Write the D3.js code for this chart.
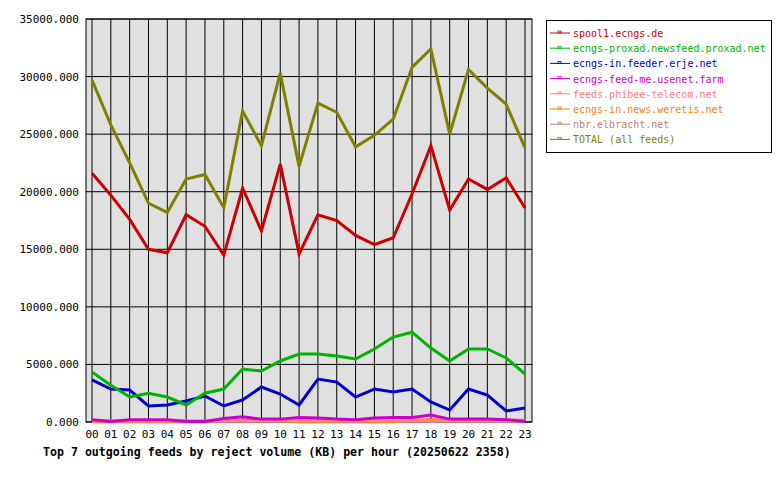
<!DOCTYPE html><html><head><meta charset="utf-8"><script src="https://cdn.jsdelivr.net/npm/d3@7"></script>
<style>body{margin:0;background:#fff}text{font-family:"DejaVu Sans Mono",monospace}</style></head><body><svg id="c" width="780" height="480"></svg>
<script>
const hours=["00","01","02","03","04","05","06","07","08","09","10","11","12","13","14","15","16","17","18","19","20","21","22","23"];
const yTicks=[0,5000,10000,15000,20000,25000,30000,35000];
const names=["spool1.ecngs.de","ecngs-proxad.newsfeed.proxad.net","ecngs-in.feeder.erje.net","ecngs-feed-me.usenet.farm","feeds.phibee-telecom.net","ecngs-in.news.weretis.net","nbr.elbracht.net","TOTAL (all feeds)"];
const colors=["#cc0000","#00b400","#0000cc","#cc00cc","#ff8080","#ff8000","#c08080","#808000"];
const spool=[21600,19700,17600,15000,14700,18000,17000,14500,20300,16600,22400,14600,18000,17500,16200,15400,16000,19800,24000,18400,21100,20200,21200,18600];
const proxad=[4340,3200,2170,2500,2170,1480,2500,2860,4600,4430,5300,5900,5900,5730,5470,6340,7380,7800,6420,5300,6340,6340,5560,4170];
const erje=[3650,2860,2780,1390,1480,1820,2260,1390,1910,3040,2430,1480,3730,3470,2170,2860,2600,2860,1740,1040,2860,2340,960,1220];
const farm=[200,50,200,200,200,50,50,300,450,250,250,400,350,250,200,350,400,400,600,250,250,250,200,50];
const phibee=[80,80,80,80,80,80,80,80,80,80,80,80,80,80,80,80,80,80,80,80,80,80,80,80];
const weretis=[20,20,20,20,20,20,20,150,150,150,150,20,20,20,20,20,20,150,200,150,150,150,150,150];
const nbr=[60,60,60,60,60,60,60,60,60,60,60,60,60,60,60,60,60,60,60,60,60,60,60,60];
const total=[29700,25800,22500,19000,18200,21100,21500,18600,27000,24000,30300,22200,27700,26900,23900,24900,26300,30800,32400,25000,30600,29000,27600,23800];
const series=[spool,proxad,erje,farm,phibee,weretis,nbr,total];
const svg=d3.select("#c");
const L=86,R=532,T=19,B=422;
svg.append("rect").attr("x",L).attr("y",T).attr("width",R-L).attr("height",B-T).attr("fill","#e0e0e0");
const x=d3.scalePoint().domain(hours).range([92,525]);
const y=d3.scaleLinear().domain([0,35000]).range([B,T]);
svg.selectAll(".vg").data(hours).join("line").attr("x1",d=>x(d)).attr("x2",d=>x(d)).attr("y1",T).attr("y2",B).attr("stroke","#000");
svg.selectAll(".hg").data(yTicks).join("line").attr("x1",L).attr("x2",R).attr("y1",d=>y(d)).attr("y2",d=>y(d)).attr("stroke","#000");
svg.append("rect").attr("x",L).attr("y",T).attr("width",R-L).attr("height",B-T).attr("fill","none").attr("stroke","#000");
svg.selectAll(".yl").data(yTicks).join("text").attr("x",79).attr("y",d=>y(d)+4).attr("text-anchor","end").attr("font-size",11).text(d=>d3.format(".3f")(d));
svg.selectAll(".xl").data(hours).join("text").attr("x",d=>x(d)).attr("y",438).attr("text-anchor","middle").attr("font-size",11).text(d=>d);
const line=d3.line().x((d,i)=>x(hours[i])).y(d=>y(d));
[6,5,4,3,2,1,0,7].forEach(k=>svg.append("path").attr("d",line(series[k])).attr("fill","none").attr("stroke",colors[k]).attr("stroke-width",3));
svg.append("text").attr("x",43).attr("y",456).attr("font-size",11.6).attr("font-weight","bold").text("Top 7 outgoing feeds by reject volume (KB) per hour (20250622 2358)");
const lg=svg.append("g");
lg.append("rect").attr("x",546.5).attr("y",20.5).attr("width",225).attr("height",132).attr("fill","#fff").attr("stroke","#000");
names.forEach((n,i)=>{const yy=33+i*15.2;
lg.append("line").attr("x1",550).attr("x2",570).attr("y1",yy).attr("y2",yy).attr("stroke",colors[i]);
lg.append("rect").attr("x",558).attr("y",yy-2).attr("width",3).attr("height",2).attr("fill","none").attr("stroke",colors[i]).attr("stroke-width",0.8);
lg.append("text").attr("x",573).attr("y",yy+4).attr("font-size",10).attr("fill",colors[i]).text(n);});
</script></body></html>
